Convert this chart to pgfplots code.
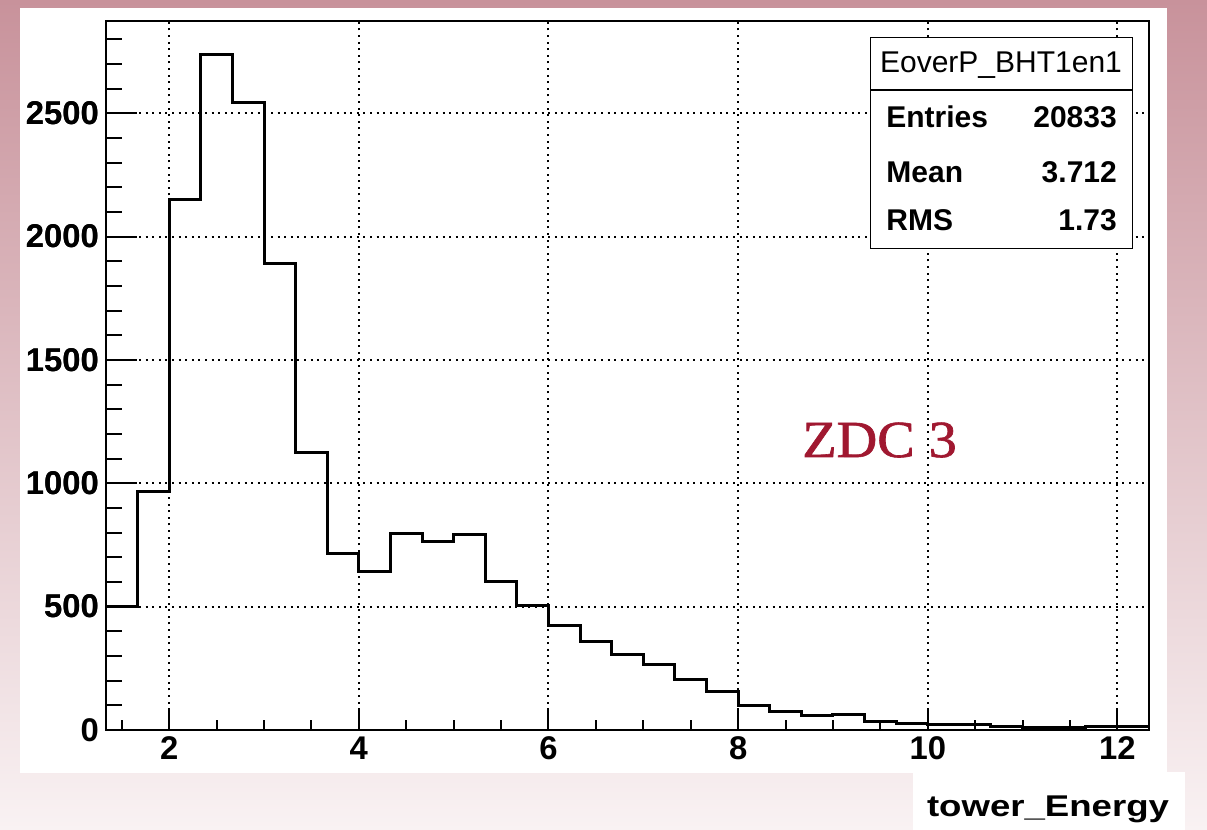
\documentclass[border=0pt]{standalone}
\usepackage{fontspec}
\setmainfont{Liberation Sans}
\newfontfamily\zdcfont[FakeBold=1.2]{Liberation Serif}
\usepackage{graphicx}
\usepackage{pgfplots}
\usepackage{pgfplotstable}
\pgfplotsset{compat=1.18}

\definecolor{bgtop}{RGB}{200,146,155}
\definecolor{bgbot}{RGB}{249,242,243}
\definecolor{zdcred}{RGB}{160,24,48}

% tower energy histogram, 33 bins of width 1/3 (left bin edge, count)
\pgfplotstableread{
x        y
1.3333   500
1.6667   968
2.0000   2150
2.3333   2737
2.6667   2545
3.0000   1891
3.3333   1126
3.6667   716
4.0000   643
4.3333   798
4.6667   764
5.0000   794
5.3333   602
5.6667   505
6.0000   424
6.3333   359
6.6667   304
7.0000   265
7.3333   206
7.6667   156
8.0000   100
8.3333   76
8.6667   59
9.0000   63
9.3333   36
9.6667   27
10.0000  24
10.3333  21
10.6667  13
11.0000  12
11.3333  12
11.6667  13
12.0000  14
12.3333  14
}\histdata

\pgfplotsset{
  rootaxis/.style={
    at={(53pt,50pt)}, anchor=south west,
    scale only axis, width=521.5pt, height=354.5pt,
    xmin=1.3333, xmax=12.3333, ymin=0, ymax=2874,
    axis line style={line width=1pt, black},
    tick style={line width=1pt, black},
    tick align=inside,
    ticklabel style={font=\fontsize{16.4}{18}\selectfont\bfseries},
    /pgf/number format/assume math mode=true,
    /pgf/number format/1000 sep={},
  }
}

\begin{document}
\begin{tikzpicture}
\useasboundingbox (0pt,0pt) rectangle (603.5pt,415pt);
\shade[top color=bgtop, bottom color=bgbot] (0pt,0pt) rectangle (603.5pt,415pt);
\fill[white] (10pt,28.5pt) rectangle (583.3pt,411.2pt);
\fill[white] (456.5pt,0pt) rectangle (592.5pt,29pt);

% frame, grid, x ticks and the histogram
\begin{axis}[rootaxis,
  xtick={2,4,...,12}, minor xtick={1.5,2,...,12},
  xtick pos=lower,
  major tick length=10.5pt, minor tick length=5pt,
  ytick={500,1000,...,2500}, yticklabel={},
  ytick style={draw=none},
  grid=major,
  major grid style={line width=1pt, black, dash pattern=on 1pt off 2.3pt},
]
\addplot[const plot, line width=1.5pt, black] table[x=x, y=y] {\histdata};
\end{axis}

% y ticks with their longer marks
\begin{axis}[rootaxis,
  axis x line=none, axis y line*=left,
  ytick={0,500,...,2500}, minor ytick={0,100,...,2800},
  major tick length=15.3pt, minor tick length=7.8pt,
]
\end{axis}

% statistics box
\draw[line width=0.6pt, fill=white] (435.3pt,290.9pt) rectangle (566.2pt,396.2pt);
\draw[line width=0.6pt] (435.3pt,370pt) -- (566.2pt,370pt);
\node[anchor=base, inner sep=0pt] at (500.5pt,378.6pt)
  {\fontsize{15}{15}\selectfont EoverP\_BHT1en1};
\begin{scope}[every node/.style={inner sep=0pt, font=\fontsize{15}{15}\selectfont\bfseries}]
  \node[anchor=base west] at (443pt,351pt) {Entries};
  \node[anchor=base east] at (558.6pt,351pt) {20833};
  \node[anchor=base west] at (443pt,323.5pt) {Mean};
  \node[anchor=base east] at (558.6pt,323.5pt) {3.712};
  \node[anchor=base west] at (443pt,299.5pt) {RMS};
  \node[anchor=base east] at (558.6pt,299.5pt) {1.73};
\end{scope}

% label inside the plot
\node[anchor=base west, inner sep=0pt, text=zdcred] at (401pt,186.5pt)
  {\scalebox{1.08}[1]{\zdcfont\fontsize{26}{26}\selectfont ZDC 3}};

% x axis title
\node[anchor=base west, inner sep=0pt] at (463.3pt,6.65pt)
  {\scalebox{1.22}[1]{\fontsize{15}{15}\selectfont\bfseries tower\_Energy}};
\end{tikzpicture}
\end{document}
